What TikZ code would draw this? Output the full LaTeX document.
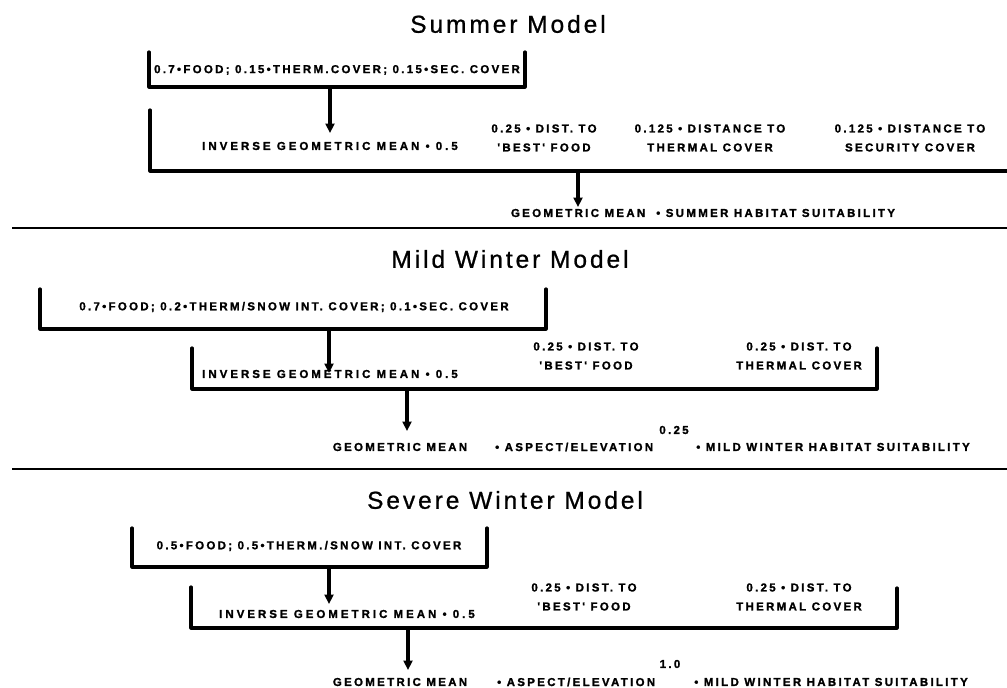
\documentclass[tikz,border=0pt]{standalone}
\usepackage{fontspec}
\usetikzlibrary{arrows.meta}
\newfontfamily\ttlfont[LetterSpace=12,FakeBold=0.8]{Liberation Sans}
\newfontfamily\lblfont[LetterSpace=20,FakeBold=1.4]{Liberation Sans}
\newfontfamily\lblwide[LetterSpace=26,FakeBold=1.4]{Liberation Sans}
\tikzset{
  lbl/.style={font=\lblfont\bfseries\fontsize{11.5}{19}\selectfont, align=center, inner sep=0pt},
  lblw/.style={font=\lblwide\bfseries\fontsize{11.5}{19}\selectfont, align=center, inner sep=0pt},
  ttl/.style={font=\ttlfont\fontsize{24.5}{28}\selectfont, inner sep=0pt},
  brk/.style={line width=3.2pt, line cap=round, line join=round},
  arr/.style={line width=3.2pt, -{Triangle[width=9pt,length=9.5pt]}},
  sepline/.style={line width=2pt}
}
\begin{document}
\begin{tikzpicture}[x=1pt,y=-1pt]
\useasboundingbox (0,0) rectangle (1007,688);

% ---------- Summer ----------
\node[ttl] (t1) at (508,24) {Summer Model};
\node[lbl] (s1) at (337,70) {0.7•FOOD; 0.15•THERM.COVER; 0.15•SEC. COVER};
\draw[brk] (149,52) -- (149,87) -- (525,87) -- (525,52);
\coordinate (s1a) at (330,87);
\coordinate (s1b) at (330,133);
\draw[arr] (s1a) -- (s1b);
\node[lblw] (s2) at (330,146) {INVERSE GEOMETRIC MEAN • 0.5};
\node[lbl] (s3) at (544,138) {0.25 • DIST. TO\\'BEST' FOOD};
\node[lbl] (s4) at (710,138) {0.125 • DISTANCE TO\\THERMAL COVER};
\node[lbl] (s5) at (910,138) {0.125 • DISTANCE TO\\SECURITY COVER};
\draw[brk] (150,110) -- (150,171) -- (1007,171);
\coordinate (s2a) at (578,171);
\coordinate (s2b) at (578,207);
\draw[arr] (s2a) -- (s2b);
\node[lbl] (s6) at (703,213) {GEOMETRIC MEAN \ • SUMMER HABITAT SUITABILITY};
\draw[sepline] (12,228) -- (1007,228);

% ---------- Mild Winter ----------
\node[ttl] (t2) at (510,259) {Mild Winter Model};
\node[lbl] (m1) at (294,307) {0.7•FOOD; 0.2•THERM/SNOW INT. COVER; 0.1•SEC. COVER};
\draw[brk] (40,289) -- (40,329) -- (546,329) -- (546,289);
\coordinate (m1a) at (329,329);
\coordinate (m1b) at (329,373);
\draw[arr] (m1a) -- (m1b);
\node[lblw] (m2) at (330,374) {INVERSE GEOMETRIC MEAN • 0.5};
\node[lbl] (m3) at (586,356) {0.25 • DIST. TO\\'BEST' FOOD};
\node[lbl] (m4) at (799,356) {0.25 • DIST. TO\\THERMAL COVER};
\draw[brk] (192,348) -- (192,389) -- (877,389) -- (877,348);
\coordinate (m2a) at (407,389);
\coordinate (m2b) at (407,431);
\draw[arr] (m2a) -- (m2b);
\node[lbl] (m5) at (400,447) {GEOMETRIC MEAN};
\node[lbl, anchor=west] (m6) at (495,447) {• ASPECT/ELEVATION};
\node[lbl, anchor=east] (m7) at (970,447) {• MILD WINTER HABITAT SUITABILITY};
\node[lbl] (m8) at (674,430) {0.25};
\draw[sepline] (12,469) -- (1007,469);

% ---------- Severe Winter ----------
\node[ttl] (t3) at (505,500) {Severe Winter Model};
\node[lbl] (v1) at (309,546) {0.5•FOOD; 0.5•THERM./SNOW INT. COVER};
\draw[brk] (132,528) -- (132,567) -- (487,567) -- (487,528);
\coordinate (v1a) at (329,567);
\coordinate (v1b) at (329,604);
\draw[arr] (v1a) -- (v1b);
\node[lblw] (v2) at (347,614) {INVERSE GEOMETRIC MEAN • 0.5};
\node[lbl] (v3) at (584,597) {0.25 • DIST. TO\\'BEST' FOOD};
\node[lbl] (v4) at (799,597) {0.25 • DIST. TO\\THERMAL COVER};
\draw[brk] (191,587) -- (191,628) -- (897,628) -- (897,588);
\coordinate (v2a) at (408,628);
\coordinate (v2b) at (408,670);
\draw[arr] (v2a) -- (v2b);
\node[lbl] (v5) at (400,682) {GEOMETRIC MEAN};
\node[lbl, anchor=west] (v6) at (497,682) {• ASPECT/ELEVATION};
\node[lbl, anchor=east] (v7) at (968,682) {• MILD WINTER HABITAT SUITABILITY};
\node[lbl] (v8) at (670,664) {1.0};
\end{tikzpicture}
\end{document}
